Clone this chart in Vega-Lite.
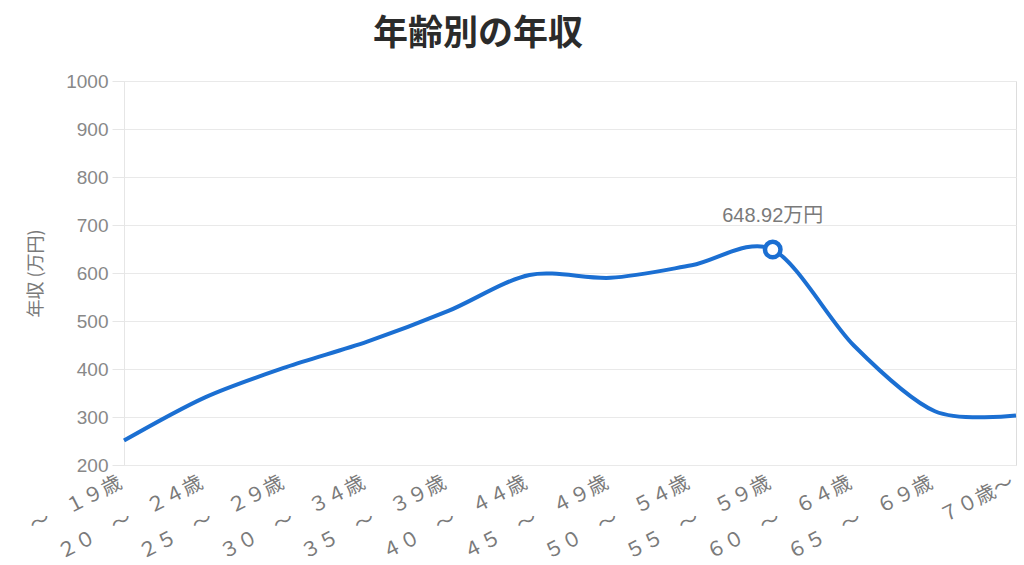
{
  "$schema": "https://vega.github.io/schema/vega-lite/v6.json",
  "width": 892,
  "height": 384,
  "autosize": "none",
  "padding": {"left": 124, "top": 81, "right": 8, "bottom": 100},
  "background": "white",
  "title": {
    "text": "年齢別の年収",
    "font": "Noto Sans CJK JP",
    "fontSize": 35,
    "fontWeight": "bold",
    "color": "#2b2b2b",
    "anchor": "middle",
    "dx": -92,
    "offset": 20
  },
  "data": {
    "values": [
      {"age": "～　１９歳", "income": 251},
      {"age": "２０　～　２４歳", "income": 341},
      {"age": "２５　～　２９歳", "income": 404},
      {"age": "３０　～　３４歳", "income": 457},
      {"age": "３５　～　３９歳", "income": 521},
      {"age": "４０　～　４４歳", "income": 596},
      {"age": "４５　～　４９歳", "income": 590},
      {"age": "５０　～　５４歳", "income": 616},
      {"age": "５５　～　５９歳", "income": 648.92, "label": "648.92万円"},
      {"age": "６０　～　６４歳", "income": 449},
      {"age": "６５　～　６９歳", "income": 312},
      {"age": "７０歳～", "income": 303}
    ]
  },
  "encoding": {
    "x": {
      "field": "age",
      "type": "nominal",
      "sort": null,
      "scale": {"type": "point", "padding": 0},
      "axis": {
        "title": null,
        "labelAngle": -27,
        "labelAlign": "right",
        "labelBaseline": "middle",
        "labelPadding": 16,
        "labelOffset": -4,
        "labelFont": "Noto Sans CJK JP",
        "labelFontSize": 20,
        "labelColor": "#7a7a7a",
        "ticks": false,
        "domain": false,
        "grid": false,
        "labelOverlap": false
      }
    },
    "y": {
      "field": "income",
      "type": "quantitative",
      "scale": {"domain": [200, 1000], "nice": false, "zero": false},
      "axis": {
        "title": "年収 (万円)",
        "titleFont": "Noto Sans CJK JP",
        "titleFontSize": 18,
        "titleFontWeight": "normal",
        "titleColor": "#7a7a7a",
        "titlePadding": 20,
        "values": [200, 300, 400, 500, 600, 700, 800, 900, 1000],
        "format": "d",
        "labelFont": "Liberation Sans",
        "labelFontSize": 19,
        "labelColor": "#888888",
        "labelPadding": 4,
        "tickSize": 12,
        "tickColor": "#e6e6e6",
        "domainColor": "#e6e6e6",
        "gridColor": "#e9e9e9",
        "grid": true
      }
    }
  },
  "layer": [
    {
      "mark": {"type": "line", "interpolate": "cardinal", "tension": 0.1, "color": "#1b6fd2", "strokeWidth": 4}
    },
    {
      "transform": [{"filter": "isValid(datum.label)"}],
      "mark": {"type": "point", "shape": "circle", "filled": true, "fill": "white", "stroke": "#1b6fd2", "strokeWidth": 4.5, "size": 240, "opacity": 1}
    },
    {
      "transform": [{"filter": "isValid(datum.label)"}],
      "mark": {"type": "text", "dy": -28, "baseline": "alphabetic", "fontSize": 20, "font": "Liberation Sans, Noto Sans CJK JP", "color": "#7a7a7a"},
      "encoding": {"text": {"field": "label"}}
    }
  ]
}
